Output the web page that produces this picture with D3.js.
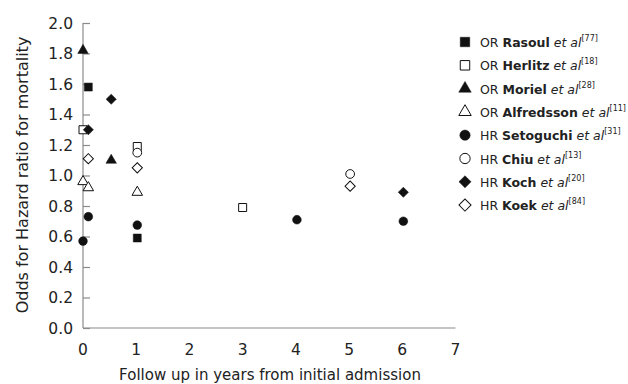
<html>
<head>
  <script src="https://d3js.org/d3.v7.min.js"></script>
  <style>
    body { margin: 0; background: #fff; }
    text { font-family: "DejaVu Sans", Verdana, sans-serif; fill: #222; }
  </style>
</head>
<body>
  <svg id="chart"></svg>

  <script>
    // series: study names, references and points
    const studies = ['Rasoul', 'Herlitz', 'Moriel', 'Alfredsson', 'Setoguchi', 'Chiu', 'Koch', 'Koek'];
    const prefixes = ['OR', 'OR', 'OR', 'OR', 'HR', 'HR', 'HR', 'HR'];
    const refs = ['77', '18', '28', '11', '31', '13', '20', '84'];

    const rasoulX = [0.1, 1.02];       const rasoulY = [1.58, 0.59];
    const herlitzX = [0, 1.02, 3];     const herlitzY = [1.30, 1.19, 0.79];
    const morielX = [0, 0.53];         const morielY = [1.82, 1.10];
    const alfredssonX = [0, 0.1, 1.02]; const alfredssonY = [0.96, 0.92, 0.89];
    const setoguchiX = [0, 0.1, 1.02, 4.02, 6.02]; const setoguchiY = [0.57, 0.73, 0.675, 0.71, 0.70];
    const chiuX = [1.02, 5.02];        const chiuY = [1.15, 1.01];
    const kochX = [0.1, 0.53, 6.02];   const kochY = [1.30, 1.50, 0.89];
    const koekX = [0.1, 1.02, 5.02];   const koekY = [1.11, 1.05, 0.93];

    const xTicks = [0, 1, 2, 3, 4, 5, 6, 7];
    const yTicks = [0, 0.2, 0.4, 0.6, 0.8, 1.0, 1.2, 1.4, 1.6, 1.8, 2.0];

    const seriesX = [rasoulX, herlitzX, morielX, alfredssonX, setoguchiX, chiuX, kochX, koekX];
    const seriesY = [rasoulY, herlitzY, morielY, alfredssonY, setoguchiY, chiuY, kochY, koekY];

    const shapes = ['square', 'square', 'triangle', 'triangle', 'circle', 'circle', 'diamond', 'diamond'];
    const filled = [true, false, true, false, true, false, true, false];

    const width = 628, height = 384;
    const svg = d3.select('#chart').attr('width', width).attr('height', height);

    const x = d3.scaleLinear().domain([0, 7]).range([83, 455.5]);
    const y = d3.scaleLinear().domain([0, 2]).range([328, 23]);

    const axisColor = '#8a8a8a';

    // y axis with inward ticks
    const yAxis = svg.append('g').attr('transform', 'translate(83,0)')
      .call(d3.axisRight(y).tickValues(yTicks).tickSize(7).tickFormat(''));
    yAxis.selectAll('line, path').attr('stroke', axisColor).attr('stroke-width', 1.2);
    yAxis.select('.domain').attr('d', `M0,${y(2)}V${y(0)}`);

    svg.append('g').selectAll('text')
      .data(yTicks).enter().append('text')
      .attr('x', 73).attr('y', d => y(d) + 5.5)
      .attr('text-anchor', 'end')
      .style('font-size', '15.5px')
      .text(d => d.toFixed(1));

    // x axis, no ticks
    svg.append('line')
      .attr('x1', x(0)).attr('x2', x(7))
      .attr('y1', y(0)).attr('y2', y(0))
      .attr('stroke', axisColor).attr('stroke-width', 1.2);

    svg.append('g').selectAll('text')
      .data(xTicks).enter().append('text')
      .attr('x', d => x(d)).attr('y', 355)
      .attr('text-anchor', 'middle')
      .style('font-size', '15.5px')
      .text(d => d);

    svg.append('text')
      .attr('x', 270).attr('y', 380)
      .attr('text-anchor', 'middle')
      .style('font-size', '15px')
      .text('Follow up in years from initial admission');

    svg.append('text')
      .attr('transform', 'translate(28,175) rotate(-90)')
      .attr('text-anchor', 'middle')
      .style('font-size', '16px')
      .text('Odds for Hazard ratio for mortality');

    function symbolPath(shape, scale) {
      if (shape === 'square') return d3.symbol(d3.symbolSquare, 64 * scale)();
      if (shape === 'circle') return d3.symbol(d3.symbolCircle, 60 * scale)();
      if (shape === 'triangle') return d3.symbol(d3.symbolTriangle, 48 * scale)();
      return d3.symbol(d3.symbolSquare, 52 * scale)();
    }

    function drawMarker(g, i, cx, cy, scale) {
      g.append('path')
        .attr('d', symbolPath(shapes[i], scale))
        .attr('transform', `translate(${cx},${cy})` + (shapes[i] === 'diamond' ? ' rotate(45)' : ''))
        .attr('fill', filled[i] ? '#111' : '#fff')
        .attr('stroke', '#111')
        .attr('stroke-width', filled[i] ? 0.5 : 1);
    }

    // points
    const pts = svg.append('g');
    studies.forEach((s, i) => {
      seriesX[i].forEach((vx, j) => {
        drawMarker(pts, i, x(vx), y(seriesY[i][j]), 1);
      });
    });

    // legend
    const legend = svg.append('g');
    studies.forEach((s, i) => {
      const ly = 42 + i * 23.3;
      drawMarker(legend, i, 465, ly, 1.4);
      const t = legend.append('text')
        .attr('x', 480).attr('y', ly + 5)
        .style('font-size', '12.5px');
      t.append('tspan').text(prefixes[i] + ' ');
      t.append('tspan').style('font-weight', 'bold').text(s);
      t.append('tspan').style('font-style', 'italic').text(' et al');
      t.append('tspan').attr('dy', -6).style('font-size', '8px').text('[' + refs[i] + ']');
    });
  </script>
</body>
</html>
